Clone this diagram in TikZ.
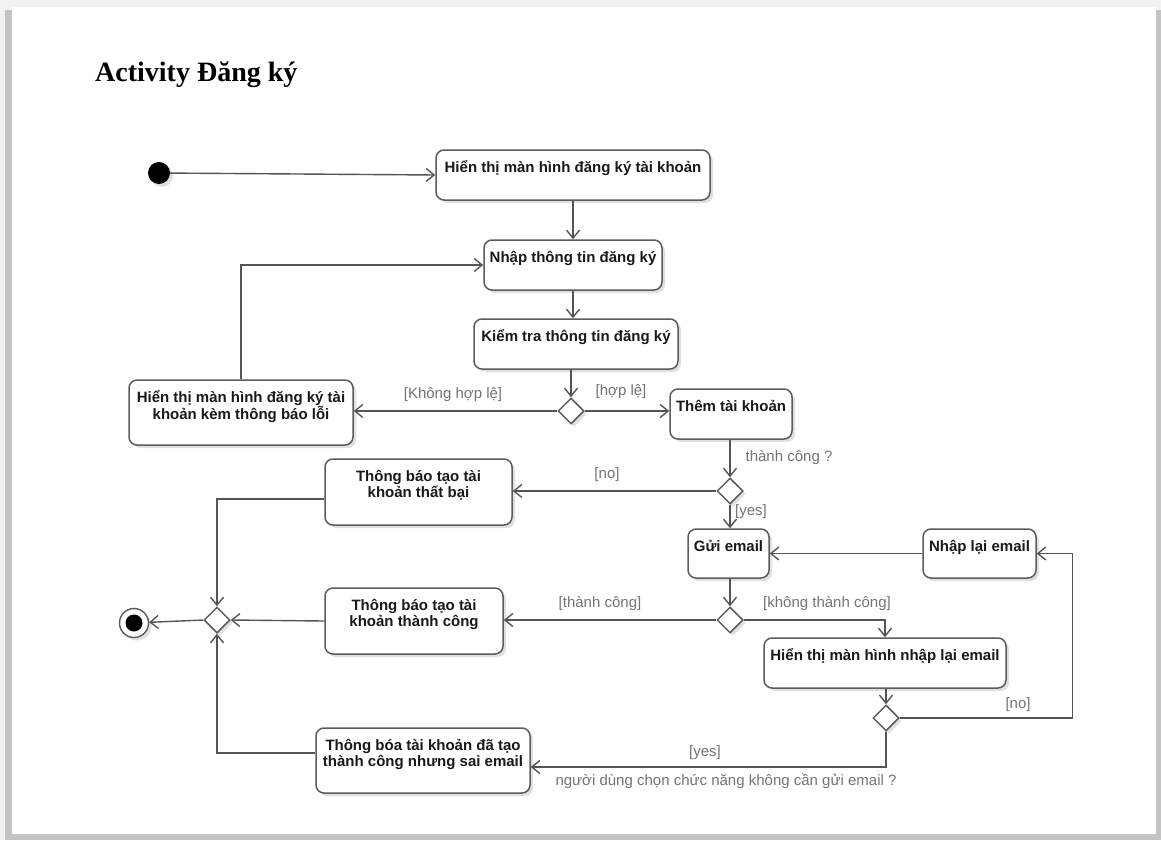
\documentclass[tikz,border=0pt]{standalone}
\usepackage{fontspec}
\setmainfont{Liberation Serif}
\newfontfamily\uisans{Liberation Sans}
\usetikzlibrary{arrows.meta,shapes.geometric,shadows}
\definecolor{edgegray}{HTML}{555555}
\definecolor{boxgray}{HTML}{5C5C5C}
\definecolor{labelgray}{HTML}{747474}
\definecolor{pageshade}{HTML}{C4C4C4}
\definecolor{outergray}{HTML}{F2F2F2}

\begin{document}
\begin{tikzpicture}[x=1pt,y=-1pt,
  softshadow/.style={drop shadow={shadow xshift=3pt,shadow yshift=-3pt,opacity=0.12,fill=black}},
  actbox/.style={draw=boxgray,line width=1.5pt,rounded corners=8pt,fill=white,softshadow},
  acttext/.style={anchor=north,inner sep=0pt,align=center,text=black!90,
    font=\uisans\bfseries\fontsize{15}{16}\selectfont},
  decision/.style={diamond,aspect=1,draw=boxgray,line width=1.5pt,fill=white,
    minimum size=26pt,inner sep=0pt,softshadow},
  guard/.style={inner sep=1pt,text=labelgray,font=\uisans\fontsize{15}{16}\selectfont},
  flow/.style={draw=edgegray,line width=1.4pt,-{Straight Barb[length=8pt,width=13pt]}}
]
% page with its shaded border
\useasboundingbox (0,0) rectangle (1161,840);
\fill[outergray] (0,0) rectangle (1161,840);
\fill[pageshade] (5,10) rectangle (1161,840);
\fill[white] (12,7) rectangle (1156,834);

% title
\node[anchor=base west,inner sep=0pt,font=\bfseries\fontsize{28}{30}\selectfont] (title) at (95,82) {Activity Đăng ký};

% start and end
\node[circle,fill=black,minimum size=22pt,inner sep=0pt,softshadow] (start) at (159,173) {};
\node[circle,draw=boxgray,line width=1.4pt,fill=white,minimum size=29pt,inner sep=0pt,softshadow] (stop) at (134,623) {};
\node[circle,fill=black,minimum size=17pt,inner sep=0pt] (stopdot) at (stop) {};

% activities
\node[actbox,minimum width=274pt,minimum height=50pt] (b1) at (573,175) {};
\node[acttext] (t1) at (573,157) {\rule{0pt}{15pt}Hiển thị màn hình đăng ký tài khoản};

\node[actbox,minimum width=178pt,minimum height=50pt] (b2) at (573,265) {};
\node[acttext] (t2) at (573,247) {\rule{0pt}{15pt}Nhập thông tin đăng ký};

\node[actbox,minimum width=204pt,minimum height=50pt] (b3) at (576,344) {};
\node[acttext] (t3) at (576,326) {\rule{0pt}{15pt}Kiểm tra thông tin đăng ký};

\node[actbox,minimum width=224pt,minimum height=65pt] (b5) at (241,412.5) {};
\node[acttext] (t5) at (241,387) {\rule{0pt}{15pt}Hiển thị màn hình đăng ký tài\\khoản kèm thông báo lỗi};

\node[actbox,minimum width=122pt,minimum height=50pt] (b6) at (731,414) {};
\node[acttext] (t6) at (731,396) {\rule{0pt}{15pt}Thêm tài khoản};

\node[actbox,minimum width=187pt,minimum height=66pt] (b8) at (418.5,492) {};
\node[acttext] (t8) at (418.5,466) {\rule{0pt}{15pt}Thông báo tạo tài\\khoản thất bại};

\node[actbox,minimum width=81pt,minimum height=49pt] (b9) at (728.5,553.5) {};
\node[acttext] (t9) at (728.5,536) {\rule{0pt}{15pt}Gửi email};

\node[actbox,minimum width=113pt,minimum height=49pt] (b10) at (979.5,553.5) {};
\node[acttext] (t10) at (979.5,536) {\rule{0pt}{15pt}Nhập lại email};

\node[actbox,minimum width=242pt,minimum height=50pt] (b12) at (885,663) {};
\node[acttext] (t12) at (885,645) {\rule{0pt}{15pt}Hiển thị màn hình nhập lại email};

\node[actbox,minimum width=178pt,minimum height=66pt] (b14) at (414,621) {};
\node[acttext] (t14) at (414,595) {\rule{0pt}{15pt}Thông báo tạo tài\\khoản thành công};

\node[actbox,minimum width=214pt,minimum height=65pt] (b17) at (423,760.5) {};
\node[acttext] (t17) at (423,735) {\rule{0pt}{15pt}Thông bóa tài khoản đã tạo\\thành công nhưng sai email};

% decisions and merge
\node[decision] (d1) at (571,411) {};
\node[decision] (d2) at (730,491) {};
\node[decision] (d3) at (730,620) {};
\node[decision] (d4) at (886,718) {};
\node[decision] (merge) at (217,620) {};

% flows
\draw[flow] (start) -- (b1.west);
\draw[flow] (b1.south) -- (b2.north);
\draw[flow] (b2.south) -- (b3.north -| b2.south);
\draw[flow] (b3.south -| d1.north) -- (d1.north);
\draw[flow] (d1.west) -- (d1.west -| b5.east);
\draw[flow] (d1.east) -- (d1.east -| b6.west);
\draw[flow] (b5.north) |- (b2.west);
\draw[flow] (b6.south -| d2.north) -- (d2.north);
\draw[flow] (d2.west) -- (d2.west -| b8.east);
\draw[flow] (d2.south) -- (b9.north -| d2.south);
\draw[flow] (b9.south -| d3.north) -- (d3.north);
\draw[flow] (d3.west) -- (d3.west -| b14.east);
\draw[flow] (d3.east) -| (b12.north);
\draw[flow] (b10.west) -- (b9.east);
\draw[flow] (b12.south -| d4.north) -- (d4.north);
\draw[flow] (d4.east) -| ([xshift=36pt]b10.east) -- (b10.east);
\draw[flow] (d4.south) |- ([yshift=-6.5pt]b17.east);
\draw[flow] ([yshift=-7pt]b8.west) -| (merge.north);
\draw[flow] (b14.west) -- (merge.east);
\draw[flow] ([yshift=7.5pt]b17.west) -| (merge.south);
\draw[flow] (merge.west) -- (stop);

% guards
\node[guard] (gInvalid) at (453,395) {[Không hợp lệ]};
\node[guard] (gValid) at (621,392) {[hợp lệ]};
\node[guard] (gAdded) at (789,458) {thành công ?};
\node[guard] (gNo1) at (607,475) {[no]};
\node[guard] (gYes1) at (751,512) {[yes]};
\node[guard] (gSent) at (600,604) {[thành công]};
\node[guard] (gUnsent) at (827,604) {[không thành công]};
\node[guard] (gNo2) at (1018,705) {[no]};
\node[guard] (gYes2) at (705,753) {[yes]};
\node[guard] (gSkip) at (726,781) {người dùng chọn chức năng không cần gửi email ?};
\end{tikzpicture}
\end{document}
